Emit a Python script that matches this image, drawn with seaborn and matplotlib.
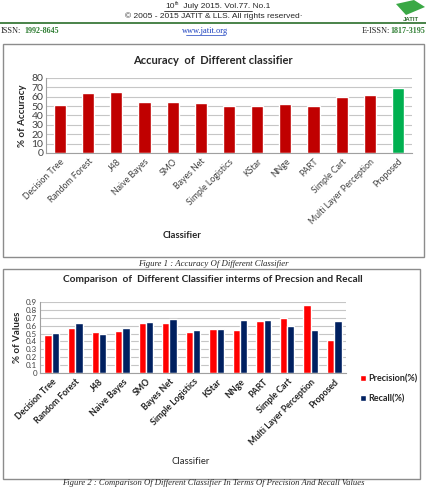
import matplotlib
matplotlib.use('Agg')
import matplotlib.pyplot as plt
import matplotlib.patches as mpatches
import seaborn as sns
import pandas as pd

# data
classifiers = ['Decision Tree', 'Random Forest', 'J48', 'Naive Bayes', 'SMO', 'Bayes Net',
               'Simple Logistics', 'KStar', 'NNge', 'PART', 'Simple Cart',
               'Multi Layer Perception', 'Proposed']
accuracy = [50.7, 63.9, 65.0, 54.6, 54.6, 53.2, 50.0, 50.3, 51.8, 50.3, 60.0, 61.7, 69.3]
precision = [0.48, 0.57, 0.52, 0.53, 0.64, 0.63, 0.52, 0.56, 0.54, 0.66, 0.70, 0.86, 0.42]
recall = [0.51, 0.64, 0.50, 0.57, 0.65, 0.69, 0.55, 0.56, 0.67, 0.67, 0.60, 0.55, 0.66]

W, H = 427, 487
sns.set_theme(style='white')
plt.rcParams['font.family'] = ['Lato', 'DejaVu Sans']
fig = plt.figure(figsize=(W / 100, H / 100), dpi=100)
fig.patch.set_facecolor('white')


def px_axes(left, top, right, bottom):
    return fig.add_axes([left / W, 1 - bottom / H, (right - left) / W, (bottom - top) / H])


def ftext(x, y, s, **kw):
    return fig.text(x / W, 1 - y / H, s, **kw)


def hline(x0, x1, y, **kw):
    fig.lines.append(plt.Line2D([x0 / W, x1 / W], [1 - y / H, 1 - y / H],
                                transform=fig.transFigure, **kw))


def box(left, top, right, bottom):
    fig.patches.append(mpatches.Rectangle((left / W, 1 - bottom / H), (right - left) / W,
                                          (bottom - top) / H, transform=fig.transFigure,
                                          fill=False, edgecolor='#8c8c8c', lw=1.0))


serif = ['Liberation Serif', 'DejaVu Serif']
arial = ['Liberation Sans', 'DejaVu Sans']
green = '#2e7d32'

# page header
ftext(175, 6, '10', ha='right', va='center', fontsize=6, family=arial)
ftext(175, 3.5, 'th', ha='left', va='center', fontsize=3.8, family=arial)
ftext(181, 6, ' July 2015. Vol.77. No.1', ha='left', va='center', fontsize=6, family=arial)
hline(164, 252, 10.5, color='black', lw=0.5)
ftext(214, 16, '\u00a9 2005 - 2015 JATIT & LLS. All rights reserved\u00b7', ha='center',
      va='center', fontsize=6, family=arial)
hline(0, 427, 22.5, color='#3a7a3a', lw=1.3)
ftext(1, 31, 'ISSN:', ha='left', va='center', fontsize=6, family=serif)
ftext(24, 31, '1992-8645', ha='left', va='center', fontsize=5.8, family=serif,
      color=green, fontweight='bold')
ftext(205, 31, 'www.jatit.org', ha='center', va='center', fontsize=6, family=serif,
      color='#1a3fbf')
hline(186, 225, 34.5, color='#1a3fbf', lw=0.5)
ftext(425, 31, '1817-3195', ha='right', va='center', fontsize=5.8, family=serif,
      color=green, fontweight='bold')
ftext(390, 31, 'E-ISSN:', ha='right', va='center', fontsize=6, family=serif)
# logo
fig.patches.append(mpatches.Polygon([(396 / W, 1 - 4 / H), (414 / W, 1 - 0 / H),
                                     (425 / W, 1 - 7 / H), (406 / W, 1 - 15 / H)],
                                    closed=True, transform=fig.transFigure,
                                    facecolor='#3aa845', edgecolor='none'))
ftext(411, 19.5, 'JATIT', ha='center', va='center', fontsize=4.3, family=arial,
      color='#2e6b2e', fontweight='bold')

grid_c = '#c6c6c6'
tick_c = '#404040'

# ---------------- Figure 1 ----------------
box(3, 44, 424, 257)
ax1 = px_axes(46, 78, 412, 153)
colors1 = ['#c00000'] * (len(classifiers) - 1) + ['#00b050']
sns.barplot(x=classifiers, y=accuracy, hue=classifiers, palette=colors1, legend=False,
            width=0.43, ax=ax1, saturation=1)
ax1.set_ylim(0, 80)
ax1.set_yticks(range(0, 81, 10))
ax1.yaxis.grid(True, color=grid_c, lw=0.8)
ax1.set_axisbelow(True)
for s in ['top', 'right']:
    ax1.spines[s].set_visible(False)
for s in ['left', 'bottom']:
    ax1.spines[s].set_color('#a0a0a0')
    ax1.spines[s].set_linewidth(0.8)
ax1.tick_params(axis='y', labelsize=7.5, colors=tick_c, pad=2, length=0)
ax1.tick_params(axis='x', labelsize=6.3, colors=tick_c, pad=3, length=0)
ax1.set_xticks(range(len(classifiers)))
ax1.set_xticklabels(classifiers, rotation=45, ha='right', rotation_mode='anchor')
ax1.set_xlim(-0.5, len(classifiers) - 0.5)
ax1.set_xlabel('')
ax1.set_ylabel('% of Accuracy', fontsize=7, fontweight='bold', labelpad=3)
ftext(213, 60, 'Accuracy  of  Different classifier', ha='center', va='center', fontsize=8,
      fontweight='bold')
ftext(182, 235, 'Classifier', ha='center', va='center', fontsize=6.8, fontweight='bold')
ftext(213, 264, 'Figure 1 : Accuracy Of Different Classifier', ha='center', va='center',
      fontsize=6.3, family=serif, style='italic')

# ---------------- Figure 2 ----------------
box(3, 269, 420, 479)
ax2 = px_axes(40, 302, 346, 373)
df2 = pd.DataFrame({'Classifier': classifiers * 2,
                    'value': precision + recall,
                    'metric': ['Precision(%)'] * len(classifiers) + ['Recall(%)'] * len(classifiers)})
sns.barplot(data=df2, x='Classifier', y='value', hue='metric',
            palette=['#ff0000', '#002060'], width=0.62, ax=ax2, saturation=1)
ax2.set_ylim(0, 0.9)
ax2.set_yticks([i / 10 for i in range(10)])
ax2.set_yticklabels(['0'] + [f'0.{i}' for i in range(1, 10)])
ax2.yaxis.grid(True, color=grid_c, lw=0.8)
ax2.set_axisbelow(True)
for s in ['top', 'right']:
    ax2.spines[s].set_visible(False)
for s in ['left', 'bottom']:
    ax2.spines[s].set_color('#a0a0a0')
    ax2.spines[s].set_linewidth(0.8)
ax2.tick_params(axis='y', labelsize=5.8, colors=tick_c, pad=2, length=0)
ax2.tick_params(axis='x', labelsize=6.3, colors='#222222', pad=3, length=0)
ax2.set_xticks(range(len(classifiers)))
ax2.set_xticklabels(classifiers, rotation=45, ha='right', rotation_mode='anchor',
                    fontweight='bold')
ax2.set_xlim(-0.5, len(classifiers) - 0.5)
ax2.set_xlabel('')
ax2.set_ylabel('% of Values', fontsize=7, fontweight='bold', labelpad=3)
ax2.legend(loc='center left', bbox_to_anchor=(1.02, -0.22), frameon=False,
           handlelength=0.6, handleheight=0.6, handletextpad=0.3, labelspacing=1.2,
           prop={'weight': 'bold', 'size': 6.5})
ftext(213, 279, 'Comparison  of  Different Classifier interms of Precsion and Recall',
      ha='center', va='center', fontsize=7.3, fontweight='bold')
ftext(191, 462, 'Classifier', ha='center', va='center', fontsize=6.8)
ftext(213, 483, 'Figure 2 : Comparison Of Different Classifier In Terms Of Precision And Recall Values',
      ha='center', va='center', fontsize=6.2, family=serif, style='italic')

fig.savefig('out.png', dpi=100)
